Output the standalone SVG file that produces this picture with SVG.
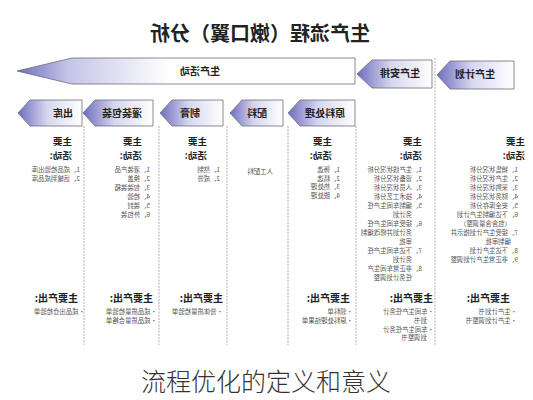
<svg xmlns="http://www.w3.org/2000/svg" width="533" height="400" viewBox="0 0 533 400">
<style>
.ttl{font-family:"Noto Sans CJK SC","Noto Sans",sans-serif;font-weight:bold;font-size:20px;fill:#222}
.bt{font-family:"Noto Sans CJK SC","Noto Sans",sans-serif;font-weight:bold;font-size:10px;fill:#222;text-anchor:middle}
.hd{font-family:"Noto Sans CJK SC","Noto Sans",sans-serif;font-weight:bold;font-size:10px;fill:#222}
.hd2{font-family:"Noto Sans CJK SC","Noto Sans",sans-serif;font-weight:bold;font-size:9.6px;fill:#222}
.li{font-family:"Noto Sans CJK SC","Noto Sans",sans-serif;font-size:6.4px;fill:#555}
.sep{stroke:#9a9a9a;stroke-width:0.8;stroke-dasharray:2 1.2;fill:none}
.arw{stroke:#6c6c7a;stroke-width:0.8;fill:url(#g)}
.cap{font-family:"Noto Sans CJK SC","Noto Sans",sans-serif;font-weight:300;font-size:25px;fill:#333}
</style>
<defs>
<linearGradient id="g" x1="0" y1="0" x2="1" y2="0">
<stop offset="0" stop-color="#ffffff"/>
<stop offset="0.55" stop-color="#d6d6f0"/>
<stop offset="1" stop-color="#6e6ebd"/>
</linearGradient>
<linearGradient id="gb" x1="0" y1="0" x2="1" y2="0">
<stop offset="0" stop-color="#ffffff"/>
<stop offset="0.55" stop-color="#ffffff"/>
<stop offset="0.85" stop-color="#c4c4e8"/>
<stop offset="1" stop-color="#6e6ebd"/>
</linearGradient>
</defs>
<rect width="533" height="400" fill="#ffffff"/>
<g transform="matrix(-1 0 0 1 533 0)">
<text class="ttl" x="273" y="41" text-anchor="middle">生产流程（嫩口翼）分析</text>
<g id="connectors">
<line class="sep" x1="98" y1="58" x2="98" y2="345"/>
<line class="sep" x1="177" y1="126" x2="177" y2="345"/>
<line class="sep" x1="245" y1="126" x2="245" y2="345"/>
<line class="sep" x1="306" y1="126" x2="306" y2="345"/>
<line class="sep" x1="374" y1="126" x2="374" y2="345"/>
<line class="sep" x1="449" y1="126" x2="449" y2="345"/>
</g>
<g id="plan">
<path class="arw" d="M19,61 H83 L96,75 L83,89 H19 Z"/>
<text class="bt" x="58" y="78">生产计划</text>
</g>
<g id="arrange">
<path class="arw" d="M101,60 H161 L176,74 L161,88 H101 Z"/>
<text class="bt" x="133" y="77">生产安排</text>
</g>
<g id="activity">
<path class="arw" style="fill:url(#gb)" d="M178,58 H461 L516,71 L461,84 H178 Z"/>
<text class="bt" x="333" y="74.5">生产活动</text>
</g>
<g id="raw">
<path class="arw" d="M178,100 H233 L245,113 L233,126 H178 Z"/>
<text class="bt" x="208" y="116.5">原料处理</text>
</g>
<g id="mix">
<path class="arw" d="M250,100 H291 L303,113 L291,126 H250 Z"/>
<text class="bt" x="276" y="116.5">配料</text>
</g>
<g id="paste">
<path class="arw" d="M310,100 H361 L373,113 L361,126 H310 Z"/>
<text class="bt" x="343" y="116.5">制膏</text>
</g>
<g id="fill">
<path class="arw" d="M380,100 H438 L450,113 L438,126 H380 Z"/>
<text class="bt" x="411" y="116.5">灌装包装</text>
</g>
<g id="out">
<path class="arw" d="M451,100 H503 L515,113 L503,126 H451 Z"/>
<text class="bt" x="470" y="116.5">出库</text>
</g>
<g id="col-plan">
<text class="hd2" x="8" y="145"><tspan x="8">主要</tspan><tspan x="8" dy="14">活动:</tspan></text>
<text class="li" y="172"><tspan x="15">1、销售状况分析</tspan><tspan x="15" dy="9">2、生产状况分析</tspan><tspan x="15" dy="9">3、采购状况分析</tspan><tspan x="15" dy="9">4、财务状况分析</tspan><tspan x="15" dy="9">5、安全库存分析</tspan><tspan x="15" dy="9">6、下达编制生产计划</tspan><tspan x="22" dy="9">（包含含量调整）</tspan><tspan x="15" dy="9">7、接受生产计划指示并</tspan><tspan x="22" dy="9">编制审批</tspan><tspan x="15" dy="9">8、下达生产计划</tspan><tspan x="15" dy="9">9、非正常生产计划调整</tspan></text>
<text class="hd" x="23" y="302">主要产出:</text>
<text class="li" y="314"><tspan x="16">•生产计划书</tspan><tspan x="16" dy="9">•生产计划调整书</tspan></text>
</g>
<g id="col-arrange">
<text class="hd2" x="111" y="145"><tspan x="111">主要</tspan><tspan x="111" dy="14">活动:</tspan></text>
<text class="li" y="172"><tspan x="111">1、生产线状况分析</tspan><tspan x="111" dy="9">2、设备状况分析</tspan><tspan x="111" dy="9">3、人员状况分析</tspan><tspan x="111" dy="9">4、技术工艺分析</tspan><tspan x="111" dy="9">5、编制车间生产任</tspan><tspan x="121" dy="9">务计划</tspan><tspan x="111" dy="9">6、接受车间生产任</tspan><tspan x="121" dy="9">务计划并修改编制</tspan><tspan x="121" dy="9">审批</tspan><tspan x="111" dy="9">7、下达车间生产任</tspan><tspan x="121" dy="9">务计划</tspan><tspan x="111" dy="9">8、非正常车间生产</tspan><tspan x="121" dy="9">任务计划调整</tspan></text>
<text class="hd" x="100" y="302">主要产出:</text>
<text class="li" y="314"><tspan x="99">•车间生产任务计</tspan><tspan x="106" dy="8.5">划书</tspan><tspan x="99" dy="9">•车间生产任务计</tspan><tspan x="106" dy="8.5">划调整书</tspan></text>
</g>
<g id="col-raw">
<text class="hd2" x="201" y="145"><tspan x="201">主要</tspan><tspan x="201" dy="14">活动:</tspan></text>
<text class="li" y="172"><tspan x="193">1、筛选</tspan><tspan x="193" dy="8.5">2、精选</tspan><tspan x="193" dy="8.5">3、热处理</tspan><tspan x="193" dy="8.5">4、脱处理</tspan></text>
<text class="hd" x="183" y="302">主要产出:</text>
<text class="li" y="314"><tspan x="180">•领料单</tspan><tspan x="180" dy="9">•原料处理结果单</tspan></text>
</g>
<g id="col-mix">
<text class="li" x="260" y="174">人工配料</text>
</g>
<g id="col-paste">
<text class="hd2" x="326" y="145"><tspan x="326">主要</tspan><tspan x="326" dy="14">活动:</tspan></text>
<text class="li" y="172"><tspan x="313">1、熬制</tspan><tspan x="313" dy="8.5">2、成膏</tspan></text>
<text class="hd" x="310" y="302">主要产出:</text>
<text class="li" x="310" y="314">•膏体质量检验单</text>
</g>
<g id="col-fill">
<text class="hd2" x="391" y="145"><tspan x="391">主要</tspan><tspan x="391" dy="14">活动:</tspan></text>
<text class="li" y="172"><tspan x="383">1、灌装产品</tspan><tspan x="383" dy="9">2、换盖</tspan><tspan x="383" dy="9">3、包装装箱</tspan><tspan x="383" dy="9">4、检验</tspan><tspan x="383" dy="9">5、装封</tspan><tspan x="383" dy="9">6、外包装</tspan></text>
<text class="hd" x="380" y="302">主要产出:</text>
<text class="li" y="314"><tspan x="376">•成品质量检验单</tspan><tspan x="376" dy="9">•成品质量合格单</tspan></text>
</g>
<g id="col-out">
<text class="hd2" x="461" y="145"><tspan x="461">主要</tspan><tspan x="461" dy="14">活动:</tspan></text>
<text class="li" y="172"><tspan x="453">1、成品检验出库</tspan><tspan x="453" dy="8.5">2、运输到成品库</tspan></text>
<text class="hd" x="455" y="302">主要产出:</text>
<text class="li" x="448" y="314">•成品出仓检验单</text>
</g>
</g>
<text class="cap" x="266" y="391" text-anchor="middle">流程优化的定义和意义</text>
</svg>
